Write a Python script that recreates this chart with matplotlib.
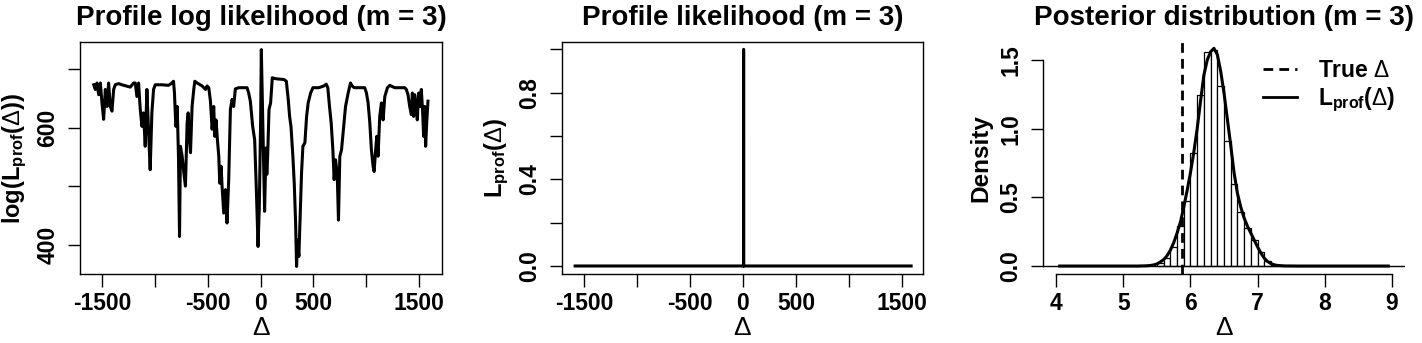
import matplotlib
matplotlib.use("Agg")
import matplotlib.pyplot as plt
from matplotlib.lines import Line2D
import numpy as np

plt.rcParams['font.family'] = ['Liberation Sans', 'DejaVu Sans']
plt.rcParams['font.weight'] = 'bold'
plt.rcParams['mathtext.fontset'] = 'custom'
plt.rcParams['mathtext.rm'] = 'Liberation Sans:weight=normal'
plt.rcParams['mathtext.bf'] = 'Liberation Sans:weight=bold'
plt.rcParams['mathtext.it'] = 'Liberation Sans:italic:weight=normal'

# ---------------- data ----------------
# Panel 1: profile log likelihood
delta_grid = [-1582, -1567, -1551, -1535, -1519, -1504, -1488, -1472, -1456, -1441,
              -1425, -1409, -1393, -1378, -1346, -1315, -1236, -1204, -1188, -1173,
              -1157, -1141, -1125, -1110, -1094, -1078, -1062, -1047, -1031, -1015,
              -999, -936, -873, -842, -826, -817, -804, -791, -779, -769,
              -760, -744, -728, -713, -697, -687, -675, -665, -650, -634,
              -624, -602, -555, -523, -508, -492, -476, -460, -445, -435,
              -423, -410, -397, -388, -375, -366, -350, -334, -319, -303,
              -287, -271, -256, -240, -208, -129, -114, -98, -76, -57,
              -41, -25, -13, 0, 6, 37, 50, 58, 66, 79,
              94, 110, 126, 157, 220, 243, 261, 274, 287, 305,
              318, 331, 340, 350, 362, 372, 387, 400, 419, 435,
              450, 473, 495, 551, 599, 621, 636, 652, 668, 684,
              696, 709, 725, 737, 750, 766, 781, 804, 829, 851,
              867, 886, 923, 986, 1002, 1018, 1034, 1049, 1065, 1075,
              1087, 1100, 1112, 1128, 1144, 1160, 1176, 1201, 1223, 1270,
              1365, 1380, 1396, 1412, 1428, 1437, 1450, 1459, 1475, 1484,
              1497, 1510, 1522, 1535, 1544, 1554, 1563, 1573, 1585]
loglik = [673, 665, 676, 656, 676, 642, 614, 665, 636, 676,
          636, 628, 665, 673, 675, 673, 669, 676, 676, 653,
          676, 631, 602, 625, 568, 665, 591, 528, 625, 665,
          673, 673, 672, 676, 679, 659, 602, 636, 551, 414,
          568, 551, 522, 500, 608, 625, 579, 557, 636, 665,
          679, 676, 671, 665, 671, 668, 645, 597, 636, 585,
          613, 579, 551, 505, 534, 500, 454, 494, 437, 511,
          631, 648, 636, 666, 668, 668, 659, 645, 602, 579,
          494, 397, 465, 619, 733, 457, 565, 520, 551, 631,
          642, 685, 684, 683, 682, 679, 648, 619, 602, 551,
          505, 437, 363, 408, 380, 437, 522, 568, 574, 619,
          642, 659, 668, 668, 671, 674, 668, 636, 608, 562,
          511, 545, 522, 442, 551, 562, 591, 636, 659, 676,
          671, 668, 668, 668, 659, 642, 608, 562, 534, 525,
          557, 585, 551, 619, 642, 613, 653, 668, 672, 668,
          668, 665, 656, 636, 622, 659, 619, 656, 636, 613,
          659, 636, 665, 625, 585, 636, 568, 608, 645]

# Panel 2: profile likelihood (normalised)
delta_lik = [-1582, 5, 6, 7, 1585]
lik = [0.0, 0.0, 1.0, 0.0, 0.0]

# Panel 3: posterior histogram (density) and profile likelihood density
bin_left = [5.5, 5.6, 5.7, 5.8, 5.9, 6.0, 6.1, 6.2, 6.3, 6.4,
            6.5, 6.6, 6.7, 6.8, 6.9, 7.0, 7.1, 7.2]
bin_density = [0.02, 0.06, 0.14, 0.29, 0.475, 0.82, 1.247, 1.558, 1.572, 1.308,
               0.907, 0.594, 0.39, 0.28, 0.193, 0.10, 0.035, 0.006]
bin_width = 0.1
curve_x = [4.05, 5.0, 5.2, 5.3, 5.35, 5.4, 5.45, 5.5, 5.55, 5.6, 5.65, 5.7, 5.75,
           5.8, 5.85, 5.9, 5.95, 6.0, 6.05, 6.1, 6.15, 6.2, 6.25, 6.3, 6.35,
           6.4, 6.45, 6.5, 6.55, 6.6, 6.65, 6.7, 6.75, 6.8, 6.85, 6.9, 6.95,
           7.0, 7.05, 7.1, 7.15, 7.2, 7.25, 7.3, 7.4, 7.6, 8.95]
curve_y = [0.0, 0.0, 0.0, 0.001, 0.002, 0.004, 0.008, 0.015, 0.03, 0.047, 0.075, 0.115, 0.17,
           0.24, 0.32, 0.43, 0.55, 0.68, 0.83, 1.0, 1.2, 1.39, 1.50, 1.56, 1.585,
           1.54, 1.42, 1.26, 1.07, 0.88, 0.68, 0.53, 0.43, 0.35, 0.29, 0.24, 0.19,
           0.14, 0.095, 0.058, 0.033, 0.018, 0.009, 0.004, 0.001, 0.0, 0.0]
true_delta = 5.87

xticks12 = [-1500, -1000, -500, 0, 500, 1000, 1500]
xticklabels12 = ['-1500', '', '-500', '0', '500', '', '1500']
yticks1 = [400, 500, 600, 700]
yticklabels1 = ['400', '', '600', '']
yticks2 = [0.0, 0.2, 0.4, 0.6, 0.8, 1.0]
yticklabels2 = ['0.0', '', '0.4', '', '0.8', '']
xticks3 = [4, 5, 6, 7, 8, 9]
yticks3 = [0.0, 0.5, 1.0, 1.5]

titles = ['Profile log likelihood (m = 3)', 'Profile likelihood (m = 3)',
          'Posterior distribution (m = 3)']

# ---------------- figure ----------------
W, H = 1422, 343
fig = plt.figure(figsize=(W / 100, H / 100), dpi=100)

def px_axes(left, top, right, bottom):
    return fig.add_axes([left / W, 1 - bottom / H, (right - left) / W, (bottom - top) / H])

ax1 = px_axes(80, 42, 442, 274)
ax2 = px_axes(562, 42, 923, 274)
ax3 = px_axes(1043, 42, 1405, 274)

TICK_FS = 16.5
LAB_FS = 17
TITLE_FS = 20
DELTA_FS = 19

def style(ax):
    ax.tick_params(direction='out', length=9, width=1, labelsize=TICK_FS, colors='black')
    ax.tick_params(axis='x', pad=4)
    ax.tick_params(axis='y', pad=6, labelrotation=90)
    for lab in ax.get_yticklabels():
        lab.set_va('center')
    for s in ax.spines.values():
        s.set_linewidth(1)

# Panel 1
ax1.plot(delta_grid, loglik, color='black', lw=2.2)
ax1.set_xlim(-1712, 1718)
ax1.set_ylim(350, 746)
ax1.set_xticks(xticks12, xticklabels12)
ax1.set_yticks(yticks1, yticklabels1)
style(ax1)
ax1.set_xlabel(r'$\Delta$', fontsize=DELTA_FS, labelpad=1)
ax1.set_ylabel(r'$\mathbf{log(L_{prof}(}\Delta\mathbf{))}$', fontsize=LAB_FS, labelpad=5)
ax1.set_title(titles[0], fontsize=TITLE_FS, fontweight='bold', pad=12)

# Panel 2
ax2.plot(delta_lik, lik, color='black', lw=2.2)
ax2.set_xlim(-1706, 1697)
ax2.set_ylim(-0.037, 1.034)
ax2.set_xticks(xticks12, xticklabels12)
ax2.set_yticks(yticks2, yticklabels2)
style(ax2)
ax2.set_xlabel(r'$\Delta$', fontsize=DELTA_FS, labelpad=1)
ax2.set_ylabel(r'$\mathbf{L_{prof}(}\Delta\mathbf{)}$', fontsize=LAB_FS, labelpad=5)
ax2.set_title(titles[1], fontsize=TITLE_FS, fontweight='bold', pad=12)

# Panel 3
ax3.bar(bin_left, bin_density, width=bin_width, align='edge', facecolor='white',
        edgecolor='black', linewidth=0.9, zorder=2)
ax3.axhline(0, color='black', lw=1, zorder=3)
ax3.plot(curve_x, curve_y, color='black', lw=2.2, zorder=4)
vl = ax3.axvline(true_delta, color='black', lw=2, zorder=5)
vl.set_dashes([3.5, 2.2])
ax3.set_xlim(3.8, 9.2)
ax3.set_ylim(-0.058, 1.631)
ax3.set_xticks(xticks3, [str(v) for v in xticks3])
ax3.set_yticks(yticks3, ['%.1f' % v for v in yticks3])
ax3.spines['top'].set_visible(False)
ax3.spines['right'].set_visible(False)
ax3.spines['left'].set_bounds(0, 1.5)
ax3.spines['bottom'].set_bounds(4, 9)
style(ax3)
ax3.set_xlabel(r'$\Delta$', fontsize=DELTA_FS, labelpad=1)
ax3.set_ylabel('Density', fontsize=LAB_FS + 0.5, fontweight='bold', labelpad=5)
ax3.set_title(titles[2], fontsize=TITLE_FS, fontweight='bold', pad=12)

h1 = Line2D([], [], color='black', lw=2, dashes=[3.5, 2.2])
h2 = Line2D([], [], color='black', lw=2)
ax3.legend([h1, h2], [r'$\mathbf{True}$ $\Delta$', r'$\mathbf{L_{prof}(}\Delta\mathbf{)}$'],
           loc='upper left', bbox_to_anchor=(0.607, 0.925), frameon=False,
           fontsize=16.5, handlelength=1.5, handletextpad=0.9, labelspacing=0.15,
           borderpad=0, borderaxespad=0)

fig.savefig('out.png', dpi=100)
